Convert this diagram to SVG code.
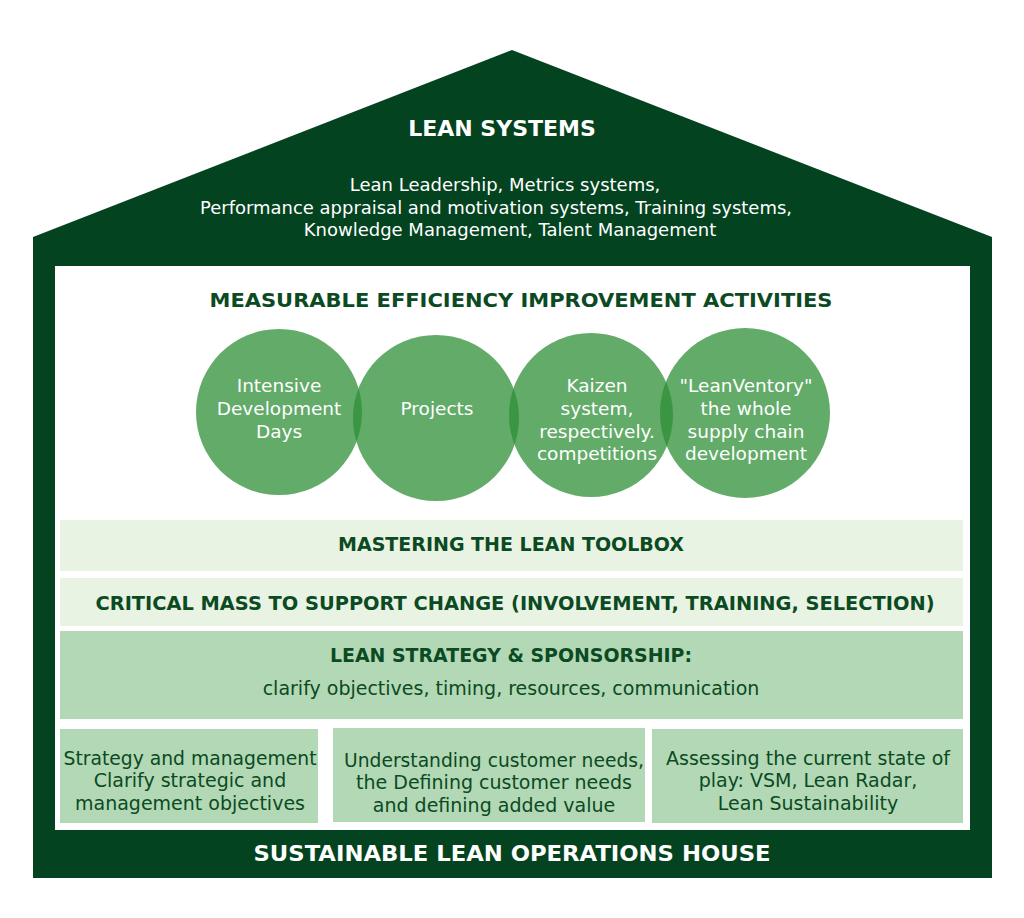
<svg xmlns="http://www.w3.org/2000/svg" width="1024" height="918" viewBox="0 0 1024 918">
<style>
text{font-family:"DejaVu Sans","Liberation Sans",sans-serif;text-anchor:middle}
.w{fill:#fff;font-size:18px}
.cw{fill:#fff;font-size:18.5px}
.h{fill:#fff;font-size:22px;font-weight:bold}
.d{fill:#0b4a22;font-size:19px;font-weight:bold}
.n{fill:#0b4a22;font-size:19px}
.c{fill:#2e8f37;fill-opacity:0.75}
</style>
<rect width="1024" height="918" fill="#fff"/>
<g id="house">
<polygon points="512,50 992,237 992,878 33,878 33,237" fill="#03431f"/>
<rect x="55" y="266" width="915" height="564" fill="#fff"/>
<text class="h" x="502" y="136">LEAN SYSTEMS</text>
<text class="w" x="505" y="191">Lean Leadership, Metrics systems,</text>
<text class="w" x="496" y="214" textLength="592" lengthAdjust="spacingAndGlyphs">Performance appraisal and motivation systems, Training systems,</text>
<text class="w" x="510" y="236">Knowledge Management, Talent Management</text>
<text class="h" x="512" y="861" textLength="517" lengthAdjust="spacingAndGlyphs">SUSTAINABLE LEAN OPERATIONS HOUSE</text>
</g>
<g id="activities">
<text class="d" x="521" y="307" textLength="623" lengthAdjust="spacingAndGlyphs">MEASURABLE EFFICIENCY IMPROVEMENT ACTIVITIES</text>
<circle class="c" cx="279" cy="412" r="83"/>
<circle class="c" cx="436" cy="418" r="83"/>
<circle class="c" cx="591" cy="415" r="82"/>
<circle class="c" cx="745" cy="413" r="85"/>
<text class="cw" x="279" y="392">Intensive</text>
<text class="cw" x="279" y="415">Development</text>
<text class="cw" x="279" y="438">Days</text>
<text class="cw" x="437" y="415">Projects</text>
<text class="cw" x="597" y="392">Kaizen</text>
<text class="cw" x="597" y="415">system,</text>
<text class="cw" x="597" y="438">respectively.</text>
<text class="cw" x="597" y="460">competitions</text>
<text class="cw" x="746" y="392">"LeanVentory"</text>
<text class="cw" x="746" y="415">the whole</text>
<text class="cw" x="746" y="438">supply chain</text>
<text class="cw" x="746" y="460">development</text>
</g>
<g id="toolbox"><rect x="60" y="520" width="903" height="51" fill="#e8f3e3"/>
<text class="d" x="511" y="551" textLength="346" lengthAdjust="spacingAndGlyphs">MASTERING THE LEAN TOOLBOX</text></g>
<g id="critical"><rect x="60" y="578" width="903" height="48" fill="#e8f3e3"/>
<text class="d" x="515" y="610" textLength="839" lengthAdjust="spacingAndGlyphs">CRITICAL MASS TO SUPPORT CHANGE (INVOLVEMENT, TRAINING, SELECTION)</text></g>
<g id="strategy"><rect x="60" y="631" width="903" height="88" fill="#b2d8b5"/>
<text class="d" x="511" y="662" textLength="362" lengthAdjust="spacingAndGlyphs">LEAN STRATEGY &amp; SPONSORSHIP:</text>
<text class="n" x="511" y="695">clarify objectives, timing, resources, communication</text></g>
<g id="box1"><rect x="60" y="729" width="258" height="94" fill="#b2d8b5"/>
<text class="n" x="190" y="765" textLength="253" lengthAdjust="spacingAndGlyphs">Strategy and management</text>
<text class="n" x="190" y="787">Clarify strategic and</text>
<text class="n" x="190" y="810">management objectives</text></g>
<g id="box2"><rect x="333" y="728" width="312" height="94" fill="#b2d8b5"/>
<text class="n" x="494" y="767" textLength="300" lengthAdjust="spacingAndGlyphs">Understanding customer needs,</text>
<text class="n" x="494" y="789">the Defining customer needs</text>
<text class="n" x="494" y="812">and defining added value</text></g>
<g id="box3"><rect x="652" y="729" width="311" height="94" fill="#b2d8b5"/>
<text class="n" x="808" y="765" textLength="284" lengthAdjust="spacingAndGlyphs">Assessing the current state of</text>
<text class="n" x="808" y="787">play: VSM, Lean Radar,</text>
<text class="n" x="808" y="810">Lean Sustainability</text></g>
<g id="connectors"/>
</svg>
